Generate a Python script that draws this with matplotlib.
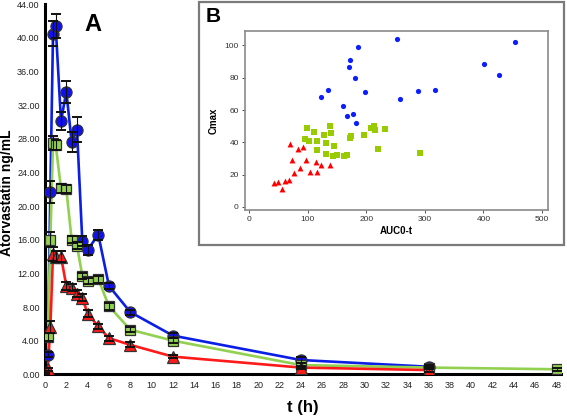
import numpy as np
import matplotlib.pyplot as plt
from matplotlib.patches import Rectangle

plt.rcParams['font.family'] = ['Liberation Sans', 'DejaVu Sans']

# Panel A: mean concentration-time profiles
t_blue = [0, 0.25, 0.5, 0.75, 1, 1.5, 2, 2.5, 3, 3.5, 4, 5, 6, 8, 12, 24, 36]
c_blue = [0, 2.3, 21.7, 40.5, 41.4, 30.1, 33.6, 27.6, 29.1, 15.8, 14.8, 16.6, 10.5, 7.4, 4.6, 1.7, 0.9]
sd_blue = [0.05, 0.3, 1.3, 1.5, 1.4, 1.1, 1.3, 1.2, 1.5, 0.6, 0.6, 0.6, 0.4, 0.3, 0.3, 0.3, 0.2]

t_green = [0, 0.25, 0.5, 0.75, 1, 1.5, 2, 2.5, 3, 3.5, 4, 5, 6, 8, 12, 24, 36, 48]
c_green = [0, 4.4, 16.0, 27.5, 27.3, 22.1, 22.0, 16.0, 15.3, 11.7, 11.1, 11.3, 8.1, 5.3, 4.0, 1.1, 0.8, 0.6]
sd_green = [0.1, 0.5, 0.9, 0.8, 0.6, 0.5, 0.5, 0.4, 0.4, 0.4, 0.4, 0.4, 0.4, 0.3, 0.3, 0.2, 0.2, 0.2]

t_red = [0, 0.25, 0.5, 0.75, 1, 1.5, 2, 2.5, 3, 3.5, 4, 5, 6, 8, 12, 24, 36]
c_red = [0, 0.6, 5.6, 14.3, 14.0, 14.0, 10.5, 10.3, 9.6, 9.1, 7.2, 5.7, 4.3, 3.5, 2.1, 0.8, 0.5]
sd_red = [0.05, 0.2, 0.7, 0.8, 0.6, 0.6, 0.5, 0.4, 0.4, 0.4, 0.4, 0.3, 0.3, 0.3, 0.2, 0.2, 0.2]

y_ticks = np.arange(0, 45, 4)
x_ticks = np.arange(0, 49, 2)

# Panel B: individual Cmax vs AUC0-t
auc_blue = [253, 454.5, 186, 173, 171, 401, 426.6, 181.6, 134.8, 197, 288.4, 317.4, 123, 257.7, 161, 167.3, 178, 182.6]
cmax_blue = [103.9, 102, 98.8, 91.3, 86.5, 88.8, 81.8, 79.7, 72.2, 71.4, 72, 72.2, 68.3, 67, 62.2, 56.4, 57.5, 51.9]
auc_green = [99.6, 138.3, 111, 140.6, 95, 102.4, 116, 128.6, 130.9, 145.7, 116, 131.4, 143.3, 150.2, 161.6,
             167.9, 172.4, 174.7, 195.7, 208.2, 214, 213, 215.7, 231.6, 219.6, 291.3]
cmax_green = [48.8, 50, 46.3, 45.5, 41.9, 40.5, 40.5, 44.8, 39.8, 37.8, 35.1, 32.6, 31.7, 32.2, 31.7,
              32.2, 42.7, 43.8, 44.4, 49, 50, 49, 47.7, 48.2, 36.1, 33.4]
auc_red = [69.5, 84.3, 91.6, 74, 98, 115, 122.9, 138.3, 87, 77.5, 103.6, 116, 68.3, 61.4, 49, 42.2, 56.3]
cmax_red = [39, 36.1, 37, 29.3, 29.3, 28, 26.1, 26.1, 24.1, 21, 21.8, 21.8, 16.8, 16, 15.6, 14.9, 11]

fig = plt.figure(figsize=(5.67, 4.17), dpi=100)
ax = fig.add_axes([0.0794, 0.1024, 0.9096, 0.8876])

series = [
    (t_blue, c_blue, sd_blue, '#0A1EE6', 'o', '#1010F0', 8),
    (t_green, c_green, sd_green, '#92D050', 's', '#92D050', 7.5),
    (t_red, c_red, sd_red, '#FF1A1A', '^', '#FF1A1A', 8),
]
for t, c, sd, lc, mk, fc, ms in series:
    ax.plot(t, c, color=lc, lw=1.9, zorder=2)
    ax.plot(t, c, ls='none', marker=mk, ms=ms, mfc=fc, mec='#333333', mew=0.9, zorder=3)
    ax.errorbar(t, c, yerr=sd, fmt='none', ecolor='#111111', elinewidth=0.8, capsize=3.5, capthick=1.4, zorder=4)

ax.set_xlim(0, 48.4)
ax.set_ylim(0, 44)
ax.set_yticks(y_ticks)
ax.set_yticklabels(['%.2f' % v for v in y_ticks])
ax.set_xticks(x_ticks)
ax.tick_params(axis='both', length=0, labelsize=6.5, colors='#222222', pad=3.8)
ax.tick_params(axis='x', pad=5)
for s in ['top', 'right']:
    ax.spines[s].set_visible(False)
ax.spines['left'].set_linewidth(2.2)
ax.spines['bottom'].set_linewidth(2.2)
ax.set_xlabel('t (h)', fontsize=12, fontweight='bold')
ax.set_ylabel('Atorvastatin ng/mL', fontsize=10, fontweight='bold')
ax.xaxis.set_label_coords(0.5, -0.07)
ax.yaxis.set_label_coords(-0.06, 0.49)
ax.text(4.5, 41.6, 'A', fontsize=17, fontweight='bold', ha='center', va='center')

# inset box
fig.patches.append(Rectangle((199 / 567, 1 - 245 / 417), 365 / 567, 243 / 417, transform=fig.transFigure,
                             facecolor='white', edgecolor='#7a7a7a', lw=1.6, zorder=5))
fig.text(213 / 567, 1 - 17 / 417, 'B', fontsize=15, fontweight='bold', ha='center', va='center', zorder=6)

ax2 = fig.add_axes([0.432, 0.4964, 0.5344, 0.4293], zorder=6)
ax2.scatter(auc_blue, cmax_blue, s=14, marker='o', color='#0A1EFF', lw=0)
ax2.scatter(auc_green, cmax_green, s=14, marker='s', color='#99CC00', lw=0)
ax2.scatter(auc_red, cmax_red, s=18, marker='^', color='#FF0000', lw=0)
ax2.set_xlim(-7, 510)
ax2.set_ylim(-2, 109)
ax2.set_xticks([0, 100, 200, 300, 400, 500])
ax2.set_yticks([0, 20, 40, 60, 80, 100])
ax2.tick_params(labelsize=6, colors='#333333', length=2.5, width=0.6, pad=2)
for s in ax2.spines.values():
    s.set_color('#8a8a8a')
    s.set_linewidth(1.2)
ax2.set_xlabel('AUC0-t', fontsize=7, fontweight='bold', labelpad=2)
ax2.set_ylabel('Cmax', fontsize=7, fontweight='bold', labelpad=4)

fig.savefig('out.png', dpi=100)
